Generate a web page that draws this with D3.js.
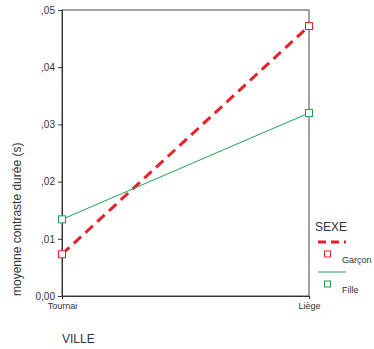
<!DOCTYPE html>
<html>
<head>
<meta charset="utf-8">
<script src="https://cdn.jsdelivr.net/npm/d3@7"></script>
<style>
	body { margin: 0; background: #fff; }
	text { font-family: Arial, "Liberation Sans", sans-serif; fill: #333; }
</style>
</head>
<body>
<script>
const villes = ['Tournai', 'Liège'];
const garcon = [0.0073, 0.0472];
const fille = [0.0134, 0.0320];
const yTicks = [0, 0.01, 0.02, 0.03, 0.04, 0.05];
const yTickLabels = ['0,00', ',01', ',02', ',03', ',04', ',05'];

const width = 374, height = 349;
const margins = {left: 62, right: 65, top: 10, bottom: 53};
const red = '#e8202a', green = '#1fa24d';

const svg = d3.select('body').append('svg')
	.attr('width', width)
	.attr('height', height);

const x = d3.scalePoint().domain(villes).range([margins.left, width - margins.right]);
const y = d3.scaleLinear().domain([0, 0.05]).range([height - margins.bottom, margins.top]);

// frame
svg.append('rect')
	.attr('x', x(villes[0]))
	.attr('y', y(0.05))
	.attr('width', x(villes[1]) - x(villes[0]))
	.attr('height', y(0) - y(0.05))
	.attr('fill', 'none')
	.attr('stroke', '#444')
	.attr('stroke-width', 1);

// axes
let yAxis = d3.axisLeft(y).tickValues(yTicks).tickSize(4).tickFormat((d, i) => yTickLabels[i]);
let ya = svg.append('g')
	.attr('transform', `translate(${margins.left},0)`)
	.call(yAxis);
ya.select('.domain').attr('stroke', '#333');
ya.selectAll('.tick line').attr('stroke', '#333');
ya.selectAll('.tick text').style('font-size', '10px').attr('x', -7).attr('fill', '#333');

let xAxis = d3.axisBottom(x).tickSize(3);
let xa = svg.append('g')
	.attr('transform', `translate(0,${y(0)})`)
	.call(xAxis);
xa.select('.domain').attr('stroke', '#333');
xa.selectAll('.tick line').attr('stroke', '#333');
xa.selectAll('.tick text').style('font-size', '9px').attr('y', 7).attr('fill', '#333');

// titles
svg.append('text')
	.attr('transform', `translate(21,${y(0)}) rotate(-90)`)
	.style('font-size', '12px')
	.text('moyenne contraste durée (s)');

svg.append('text')
	.attr('x', 62)
	.attr('y', 343)
	.style('font-size', '12px')
	.text('VILLE');

// lines
const series = [
	{name: 'Garçon', data: garcon, color: red, width: 3, dash: '10,6'},
	{name: 'Fille', data: fille, color: green, width: 1, dash: null}
];
const line = d3.line().x((d, i) => x(villes[i])).y(d => y(d));

series.forEach(s => {
	svg.append('path')
		.attr('d', line(s.data))
		.attr('fill', 'none')
		.attr('stroke', s.color)
		.attr('stroke-width', s.width)
		.attr('stroke-dasharray', s.dash);
	svg.selectAll(null).data(s.data).enter().append('rect')
		.attr('x', (d, i) => x(villes[i]) - 3.5)
		.attr('y', d => y(d) - 3.5)
		.attr('width', 7)
		.attr('height', 7)
		.attr('fill', '#fff')
		.attr('stroke', s.color)
		.attr('stroke-width', 1);
});

// legend
let legend = svg.append('g');
legend.append('text')
	.attr('x', 315)
	.attr('y', 231)
	.style('font-size', '12px')
	.text('SEXE');

series.forEach((s, i) => {
	let oy = 242 + i * 30;
	legend.append('line')
		.attr('x1', 318).attr('x2', 346)
		.attr('y1', oy).attr('y2', oy)
		.attr('stroke', s.color)
		.attr('stroke-width', s.width)
		.attr('stroke-dasharray', s.dash ? '8,5' : null);
	legend.append('rect')
		.attr('x', 324.5).attr('y', oy + 9)
		.attr('width', 6).attr('height', 6)
		.attr('fill', '#fff')
		.attr('stroke', s.color);
	legend.append('text')
		.attr('x', 342)
		.attr('y', oy + 21)
		.style('font-size', '9px')
		.text(s.name);
});
</script>
</body>
</html>
